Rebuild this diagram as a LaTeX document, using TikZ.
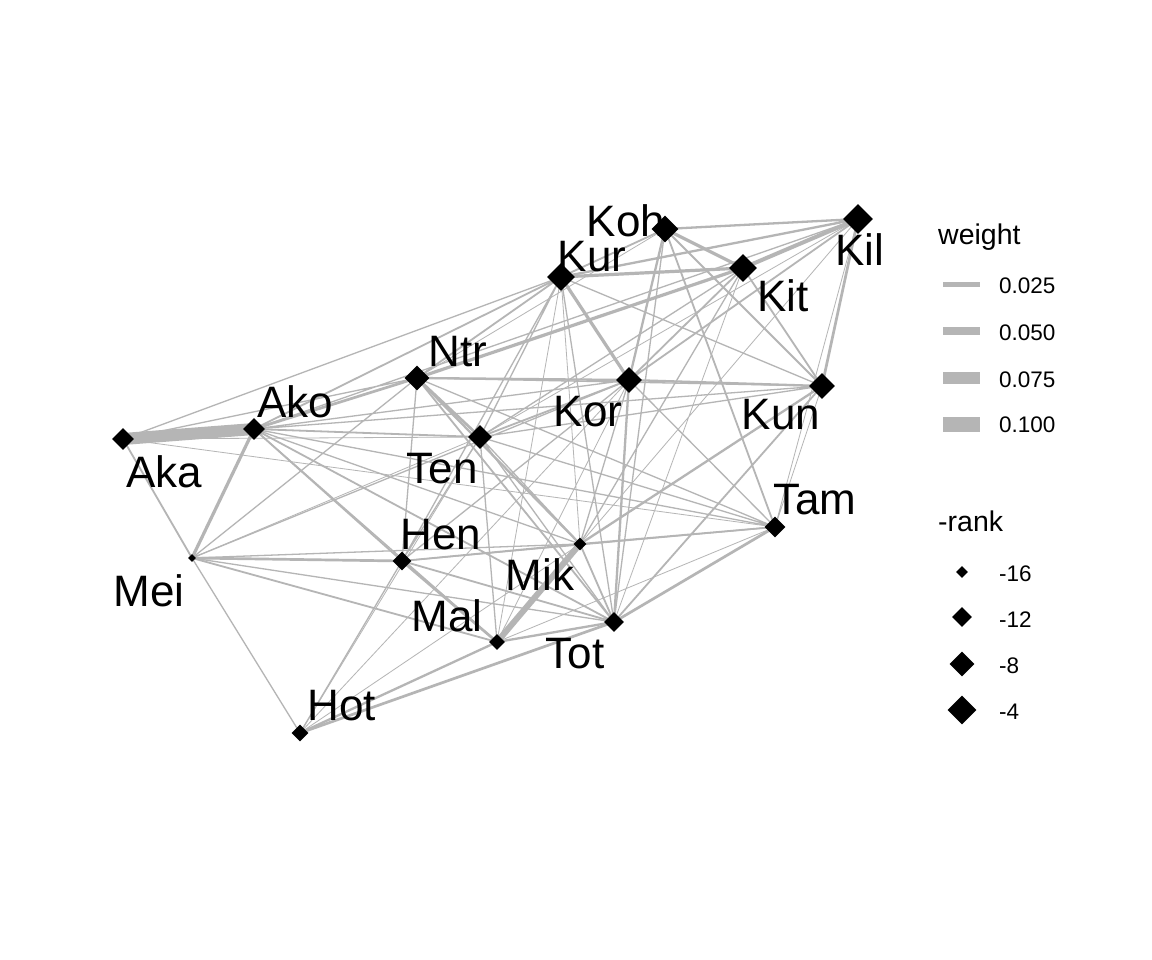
\documentclass[tikz,border=0pt]{standalone}
\usepackage{fontspec}
\setmainfont{Liberation Sans}
\usetikzlibrary{shapes.geometric}
\definecolor{edgegrey}{RGB}{181,181,181}
\pgfdeclarelayer{paperlayer}
\pgfdeclarelayer{edgelayer}
\pgfdeclarelayer{labellayer}
\pgfsetlayers{paperlayer,edgelayer,labellayer,main}

\begin{document}
\begin{tikzpicture}[x=1pt,y=-1pt,
  vertex/.style={diamond,fill=black,inner sep=0pt,aspect=1,minimum size=#1},
  edge/.style={draw=edgegrey,line width=#1},
  lab/.style={anchor=base,inner sep=0pt,font=\fontsize{44}{50}\selectfont},
  keylab/.style={anchor=base west,inner sep=0pt,font=\fontsize{22.5}{26}\selectfont},
  keytitle/.style={anchor=base west,inner sep=0pt,font=\fontsize{28.5}{32}\selectfont}]
\begin{pgfonlayer}{paperlayer}
  \fill[white] (0,0) rectangle (1152,960);
\end{pgfonlayer}
  \useasboundingbox (0,0) rectangle (1152,960);
  \node[vertex=22pt] (Aka) at (123,439) {};
  \node[vertex=22pt] (Ako) at (254,429) {};
  \node[vertex=25pt] (Ntr) at (417,378) {};
  \node[vertex=8pt] (Mei) at (192,558) {};
  \node[vertex=19pt] (Hen) at (402,561) {};
  \node[vertex=28pt] (Kur) at (561,277) {};
  \node[vertex=27pt] (Koh) at (665,229) {};
  \node[vertex=26pt] (Kor) at (629,380) {};
  \node[vertex=24pt] (Ten) at (480,437) {};
  \node[vertex=30pt] (Kil) at (858,219) {};
  \node[vertex=28pt] (Kit) at (743,268) {};
  \node[vertex=26pt] (Kun) at (822,386) {};
  \node[vertex=13pt] (Mik) at (580,544) {};
  \node[vertex=16pt] (Mal) at (497,642) {};
  \node[vertex=20pt] (Tot) at (614,622) {};
  \node[vertex=21pt] (Tam) at (775,527) {};
  \node[vertex=17pt] (Hot) at (300,733) {};
\begin{pgfonlayer}{edgelayer}
  \draw[edge=12pt] (Aka.center) -- (Ako.center);
  \draw[edge=6pt] (Mal.center) -- (Mik.center);
  \draw[edge=4pt] (Kil.center) -- (Kit.center);
  \draw[edge=3.2pt] (Ako.center) -- (Mei.center) (Koh.center) -- (Kit.center)
    (Kur.center) -- (Kit.center) (Ntr.center) -- (Kit.center) (Kur.center) -- (Kor.center);
  \draw[edge=2.7pt] (Ako.center) -- (Ntr.center) (Ntr.center) -- (Ten.center)
    (Mei.center) -- (Hen.center) (Hen.center) -- (Mal.center) (Hot.center) -- (Tot.center)
    (Tot.center) -- (Tam.center) (Kil.center) -- (Kun.center);
  \draw[edge=2.3pt] (Koh.center) -- (Kil.center) (Kur.center) -- (Kil.center)
    (Koh.center) -- (Kor.center) (Ntr.center) -- (Kor.center) (Ntr.center) -- (Mik.center)
    (Mal.center) -- (Tot.center) (Hot.center) -- (Mal.center) (Mik.center) -- (Kun.center)
    (Kor.center) -- (Kun.center) (Kor.center) -- (Tot.center);
  \draw[edge=1.8pt] (Aka.center) -- (Mei.center) (Ako.center) -- (Kur.center)
    (Ako.center) -- (Ten.center) (Ako.center) -- (Hen.center) (Ako.center) -- (Tot.center)
    (Kur.center) -- (Ntr.center) (Koh.center) -- (Kur.center) (Koh.center) -- (Kun.center)
    (Koh.center) -- (Tam.center) (Kit.center) -- (Kor.center) (Kit.center) -- (Kun.center)
    (Ntr.center) -- (Tot.center) (Ten.center) -- (Kor.center) (Hen.center) -- (Mik.center)
    (Hen.center) -- (Tot.center) (Mei.center) -- (Mal.center) (Mik.center) -- (Tot.center)
    (Mik.center) -- (Tam.center) (Tot.center) -- (Kun.center) (Kor.center) -- (Kil.center);
  \draw[edge=1.3pt] (Aka.center) -- (Kur.center) (Aka.center) -- (Ntr.center)
    (Ako.center) -- (Kor.center) (Ako.center) -- (Kun.center) (Ako.center) -- (Mik.center)
    (Ako.center) -- (Tam.center) (Ako.center) -- (Mal.center) (Ako.center) -- (Kil.center)
    (Kur.center) -- (Ten.center) (Kur.center) -- (Hen.center) (Kur.center) -- (Tot.center)
    (Kur.center) -- (Kun.center) (Ntr.center) -- (Hen.center) (Ntr.center) -- (Tam.center)
    (Ntr.center) -- (Kun.center) (Ten.center) -- (Mal.center) (Ten.center) -- (Tot.center)
    (Ten.center) -- (Tam.center) (Ten.center) -- (Kun.center) (Ten.center) -- (Kit.center)
    (Ten.center) -- (Hen.center) (Hen.center) -- (Hot.center) (Hen.center) -- (Kor.center)
    (Hen.center) -- (Tam.center) (Mei.center) -- (Hot.center) (Mei.center) -- (Tot.center)
    (Mei.center) -- (Mik.center) (Mei.center) -- (Ntr.center) (Mei.center) -- (Kor.center)
    (Mik.center) -- (Kor.center) (Mik.center) -- (Ten.center) (Tam.center) -- (Kor.center)
    (Tot.center) -- (Koh.center) (Kit.center) -- (Mik.center);
  \draw[edge=0.8pt] (Aka.center) -- (Tam.center) (Aka.center) -- (Ten.center)
    (Kur.center) -- (Mal.center) (Kur.center) -- (Mik.center) (Hot.center) -- (Mik.center)
    (Hot.center) -- (Ten.center) (Hot.center) -- (Kor.center) (Kil.center) -- (Mik.center)
    (Kil.center) -- (Tam.center) (Kun.center) -- (Tam.center) (Mal.center) -- (Kor.center)
    (Kit.center) -- (Tot.center) (Kil.center) -- (Ten.center) (Koh.center) -- (Ntr.center)
    (Mal.center) -- (Tam.center) (Mei.center) -- (Ten.center);
\end{pgfonlayer}
\begin{pgfonlayer}{labellayer}
  \node[lab] (AkaLab) at (164,487) {Aka};
  \node[lab] (AkoLab) at (295,417) {Ako};
  \node[lab] (NtrLab) at (458,366) {Ntr};
  \node[lab] (MeiLab) at (149,606) {Mei};
  \node[lab] (HenLab) at (441,549) {Hen};
  \node[lab] (KurLab) at (592,272) {Kur};
  \node[lab] (KohLab) at (626,237) {Koh};
  \node[lab] (KorLab) at (588,426) {Kor};
  \node[lab] (TenLab) at (442,483) {Ten};
  \node[lab] (KilLab) at (860,266) {Kil};
  \node[lab] (KitLab) at (783,312) {Kit};
  \node[lab] (KunLab) at (781,429) {Kun};
  \node[lab] (MikLab) at (540,590) {Mik};
  \node[lab] (MalLab) at (447,631) {Mal};
  \node[lab] (TotLab) at (575,668) {Tot};
  \node[lab] (TamLab) at (815,514) {Tam};
  \node[lab] (HotLab) at (342,720) {Hot};
\end{pgfonlayer}
  \node[keytitle] (weight) at (938,245) {weight};
  \fill[edgegrey] (943,282.5) rectangle (980,287.5);
  \fill[edgegrey] (943,327) rectangle (980,335);
  \fill[edgegrey] (943,372) rectangle (980,384);
  \fill[edgegrey] (943,416.5) rectangle (980,431.5);
  \node[keylab] (w1) at (999,294) {0.025};
  \node[keylab] (w2) at (999,340) {0.050};
  \node[keylab] (w3) at (999,387) {0.075};
  \node[keylab] (w4) at (999,432) {0.100};
  \node[keytitle] (rank) at (938,531) {-rank};
  \node[vertex=12pt] (r16) at (962,572) {};
  \node[vertex=20pt] (r12) at (962,617) {};
  \node[vertex=25pt] (r8) at (962,664) {};
  \node[vertex=29pt] (r4) at (962,710) {};
  \node[keylab] (r16Lab) at (999,581) {-16};
  \node[keylab] (r12Lab) at (999,627) {-12};
  \node[keylab] (r8Lab) at (999,673) {-8};
  \node[keylab] (r4Lab) at (999,719) {-4};
\end{tikzpicture}
\end{document}
